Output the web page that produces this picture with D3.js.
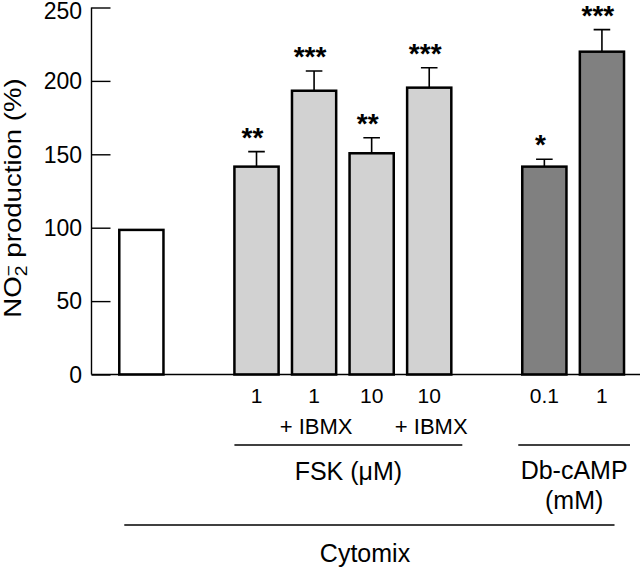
<!DOCTYPE html>
<html>
<head>
<meta charset="utf-8">
<script src="https://cdn.jsdelivr.net/npm/d3@7"></script>
<style>
  body { margin: 0; background: #fff; }
  svg { display: block; font-family: "Liberation Sans", Arial, Helvetica, sans-serif; }
  .bar { stroke: #000; stroke-width: 2.5; }
  .err { stroke: #000; stroke-width: 1.6; fill: none; }
  .rule { stroke: #000; stroke-width: 1.3; }
</style>
</head>
<body>
<svg id="chart" width="640" height="568"></svg>
<script>
// bars, left to right (spacers keep the gaps between the groups)
const categories = ["Control", "FSK 1", "FSK 1 + IBMX", "FSK 10", "FSK 10 + IBMX", "Db-cAMP 0.1", "Db-cAMP 1"];
const slotOrder = ["Control", "gap-a", "FSK 1", "FSK 1 + IBMX", "FSK 10", "FSK 10 + IBMX", "gap-b", "Db-cAMP 0.1", "Db-cAMP 1"];
const values = [98.5, 141.6, 193.3, 150.7, 195.4, 141.6, 219.9];
const errors = [0, 10.2, 13.4, 10.6, 13.6, 5, 15];
const stars = ["", "**", "***", "**", "***", "*", "***"];
const kinds = ["control", "fsk", "fsk", "fsk", "fsk", "db", "db"];
const doseLabels = ["", "1", "1", "10", "10", "0.1", "1"];
const ibmxLabels = ["", "", "+ IBMX", "", "+ IBMX", "", ""];
const yTicks = [0, 50, 100, 150, 200, 250];

const fills = { control: "#ffffff", fsk: "#d2d2d2", db: "#808080" };

const svg = d3.select("#chart");
const axisX = 91.5, baseY = 374.5;

const x = d3.scaleBand()
    .domain(slotOrder)
    .range([112.6, 630.7])
    .paddingInner(0.2325)
    .paddingOuter(0.116);

const y = d3.scaleLinear().domain([0, 250]).range([baseY, 7.5]);

const bars = categories.map((c, i) => ({
    cat: c, value: values[i], err: errors[i], star: stars[i], kind: kinds[i],
    dose: doseLabels[i], ibmx: ibmxLabels[i]
}));

// y axis, ticks pointing inward
const yAxis = d3.axisRight(y).tickValues(yTicks).tickSize(19).tickFormat("");
const ya = svg.append("g").attr("transform", `translate(${axisX},0)`).call(yAxis);
ya.select(".domain").attr("stroke", "#000").attr("stroke-width", 1.4).attr("d", `M0,${y(250)}V${baseY}`);
ya.selectAll(".tick line").attr("stroke", "#000").attr("stroke-width", 1.4);

svg.append("g").selectAll("text")
    .data(yTicks)
    .enter().append("text")
    .attr("x", 82).attr("y", d => Math.max(y(d), 10.5))
    .attr("dy", "0.36em")
    .attr("text-anchor", "end")
    .style("font-size", "23px")
    .text(d => d);

// y title
const title = svg.append("text")
    .attr("transform", "translate(20.5,198) rotate(-90) scale(1.2,1)")
    .attr("text-anchor", "middle")
    .style("font-size", "23px");
title.append("tspan").text("NO");
title.append("tspan").attr("dy", 6).style("font-size", "16px").text("2");
title.append("tspan").attr("dx", -9).attr("dy", -12.5).style("font-size", "16px").text("\u2212");
title.append("tspan").attr("dy", 6.5).text(" production (%)");

// bars
svg.append("g").selectAll(".bar")
    .data(bars)
    .enter().append("rect")
    .attr("class", "bar")
    .attr("x", d => x(d.cat))
    .attr("y", d => y(d.value))
    .attr("width", x.bandwidth())
    .attr("height", d => baseY - y(d.value))
    .attr("fill", d => fills[d.kind]);

// baseline
svg.append("line").attr("class", "rule")
    .attr("x1", axisX).attr("x2", 640)
    .attr("y1", baseY).attr("y2", baseY)
    .attr("stroke-width", 1.5);

// error bars
const errG = svg.append("g").selectAll("g")
    .data(bars.filter(d => d.err > 0))
    .enter().append("g")
    .attr("transform", d => `translate(${x(d.cat) + x.bandwidth() / 2},0)`);
errG.append("path").attr("class", "err")
    .attr("d", d => `M0,${y(d.value)}V${y(d.value + d.err)}M-8.3,${y(d.value + d.err)}H8.3`);

// significance stars
svg.append("g").selectAll("text")
    .data(bars.filter(d => d.star))
    .enter().append("text")
    .attr("x", d => x(d.cat) + x.bandwidth() / 2 - 4)
    .attr("y", d => y(d.value + d.err) - 5)
    .attr("text-anchor", "middle")
    .style("font-size", "28px")
    .style("font-weight", "bold")
    .text(d => d.star);

// category labels
svg.append("g").selectAll("text")
    .data(bars.filter(d => d.dose))
    .enter().append("text")
    .attr("x", d => x(d.cat) + x.bandwidth() / 2)
    .attr("y", 403)
    .attr("text-anchor", "middle")
    .style("font-size", "21px")
    .text(d => d.dose);

svg.append("g").selectAll("text")
    .data(bars.filter(d => d.ibmx))
    .enter().append("text")
    .attr("x", d => x(d.cat) + x.bandwidth() / 2 + 2)
    .attr("y", 434)
    .attr("text-anchor", "middle")
    .style("font-size", "22px")
    .text(d => d.ibmx);

// group brackets
const fskL = x("FSK 1"), fskR = x("FSK 10 + IBMX") + x.bandwidth() + 11;
const dbL = x("Db-cAMP 0.1") - 4, dbR = x("Db-cAMP 1") + x.bandwidth() + 6;
const cyL = x("Control") + 5, cyR = x("Db-cAMP 1") + x.bandwidth() - 9.5;

svg.append("line").attr("class", "rule").attr("x1", fskL).attr("x2", fskR).attr("y1", 445).attr("y2", 445);
svg.append("line").attr("class", "rule").attr("x1", dbL).attr("x2", dbR).attr("y1", 445).attr("y2", 445);
svg.append("line").attr("class", "rule").attr("x1", cyL).attr("x2", cyR).attr("y1", 525).attr("y2", 525);

svg.append("text").attr("x", (fskL + fskR) / 2).attr("y", 480)
    .attr("text-anchor", "middle").style("font-size", "25px").text("FSK (\u03bcM)");
svg.append("text").attr("x", (dbL + dbR) / 2).attr("y", 479)
    .attr("text-anchor", "middle").style("font-size", "25px").text("Db-cAMP");
svg.append("text").attr("x", (dbL + dbR) / 2).attr("y", 509)
    .attr("text-anchor", "middle").style("font-size", "25px").text("(mM)");
svg.append("text").attr("x", 365).attr("y", 562)
    .attr("text-anchor", "middle").style("font-size", "25px").text("Cytomix");
</script>
</body>
</html>
